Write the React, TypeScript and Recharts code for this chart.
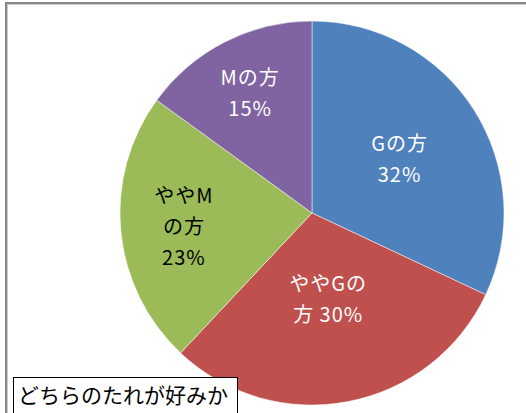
import { PieChart, Pie, Cell } from "recharts";

const categories = ["Gの方", "ややGの方", "ややMの方", "Mの方"];
const shares = [32, 30, 23, 15];
const colors = ["#4F81BD", "#C0504D", "#9BBB59", "#8064A2"];

// label line breaks, as drawn in the original
const labelLines = [
  ["Gの方", "32%"],
  ["ややGの", "方 30%"],
  ["ややM", "の方", "23%"],
  ["Mの方", "15%"],
];
const labelRadius = [0.54, 0.45, 0.67, 0.71];
const labelColor = ["#fff", "#fff", "#000", "#fff"];

const data = categories.map((name, i) => ({ name, value: shares[i] }));

const RAD = Math.PI / 180;

const renderLabel = (props: any) => {
  const { cx, cy, midAngle, outerRadius, index } = props;
  const r = outerRadius * labelRadius[index];
  const x = cx + r * Math.cos(-midAngle * RAD);
  const y = cy + r * Math.sin(-midAngle * RAD);
  const lines = labelLines[index];
  const lh = 31;
  const top = y - ((lines.length - 1) * lh) / 2;
  return (
    <text
      x={x}
      y={top}
      fill={labelColor[index]}
      textAnchor="middle"
      dominantBaseline="central"
      fontSize={20}
      letterSpacing={1}
      fontFamily="'Noto Sans CJK JP', sans-serif"
    >
      {lines.map((l, k) => (
        <tspan key={k} x={x} y={top + k * lh}>
          {l}
        </tspan>
      ))}
    </text>
  );
};

const App = () => {
  return (
    <div style={{ position: "absolute", left: 0, top: 0, width: 526, height: 413, background: "#fff", overflow: "hidden" }}>
      <div
        style={{
          position: "absolute",
          left: 5,
          top: 2,
          width: 560,
          height: 460,
          borderLeft: "2px solid #888",
          borderTop: "2px solid #888",
          boxShadow: "inset 1px 1px 0 #ccc",
        }}
      />
      <PieChart width={526} height={413} style={{ position: "absolute", left: 0, top: 0 }}>
        <Pie
          data={data}
          dataKey="value"
          nameKey="name"
          cx={307}
          cy={208}
          outerRadius={192}
          startAngle={90}
          endAngle={-270}
          stroke="#fff"
          strokeWidth={0.5}
          label={renderLabel}
          labelLine={false}
          isAnimationActive={false}
        >
          {data.map((d, i) => (
            <Cell key={d.name} fill={colors[i]} />
          ))}
        </Pie>
      </PieChart>
      <div
        style={{
          position: "absolute",
          left: 13,
          top: 377,
          width: 225,
          height: 40,
          border: "1px solid #000",
          background: "#fff",
          fontFamily: "'Noto Sans CJK JP', sans-serif",
          fontSize: 21,
          lineHeight: "32px",
          paddingLeft: 4,
          boxSizing: "border-box",
          color: "#000",
          whiteSpace: "nowrap",
        }}
      >
        どちらのたれが好みか
      </div>
    </div>
  );
};

export default App;
